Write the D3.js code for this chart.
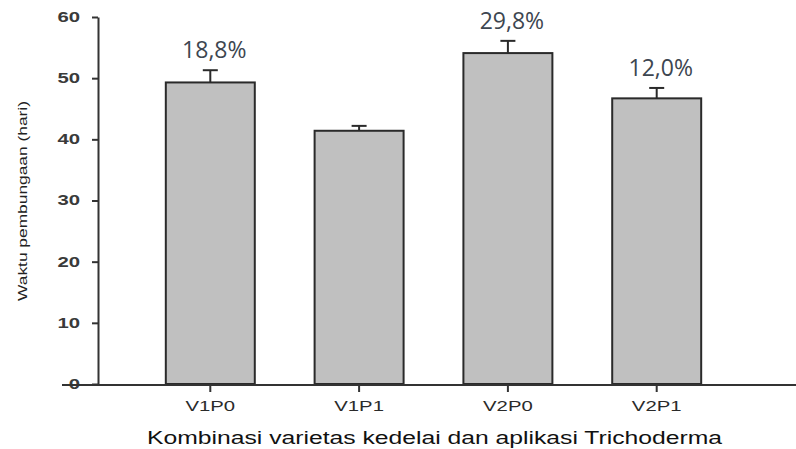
<!DOCTYPE html>
<html>
<head>
<meta charset="utf-8">
<script src="https://cdn.jsdelivr.net/npm/d3@7"></script>
<style>
  html, body { margin: 0; padding: 0; background: #fff; }
  svg { display: block; }
</style>
</head>
<body>
<svg id="chart" width="796" height="449"></svg>
<script>
// ---- data ----
const categories = ["V1P0", "V1P1", "V2P0", "V2P1"];
const means = [49.3, 41.4, 54.1, 46.7];
const errors = [2.0, 0.8, 2.0, 1.7];
const percentLabels = ["18,8%", "", "29,8%", "12,0%"];
const yTicks = [0, 10, 20, 30, 40, 50, 60];
const xTitle = "Kombinasi varietas kedelai dan aplikasi Trichoderma";
const yTitle = "Waktu pembungaan (hari)";

// ---- layout ----
const svg = d3.select("#chart");
const stretch = 1.45;

const x = d3.scaleBand()
  .domain(categories)
  .range([99, 768])
  .paddingInner(0.402)
  .paddingOuter(0.449);

const y = d3.scaleLinear().domain([0, 60]).range([384, 17]);

function stretchText(sel, k) {
  sel.each(function () {
    const w = this.getComputedTextLength();
    if (w > 0) {
      d3.select(this).attr("textLength", w * k).attr("lengthAdjust", "spacingAndGlyphs");
    }
  });
}

// bars
const data = categories.map((c, i) => ({ c, m: means[i], e: errors[i], lab: percentLabels[i] }));

svg.append("g").selectAll("rect").data(data).join("rect")
  .attr("x", d => x(d.c))
  .attr("y", d => y(d.m))
  .attr("width", x.bandwidth())
  .attr("height", d => y(0) - y(d.m))
  .attr("fill", "#c0c0c0")
  .attr("stroke", "#2a2a2a")
  .attr("stroke-width", 2);

// error bars
const eg = svg.append("g").attr("stroke", "#2a2a2a").attr("stroke-width", 2);
eg.selectAll("line.v").data(data).join("line").attr("class", "v")
  .attr("x1", d => x(d.c) + x.bandwidth() / 2)
  .attr("x2", d => x(d.c) + x.bandwidth() / 2)
  .attr("y1", d => y(d.m))
  .attr("y2", d => y(d.m + d.e));
eg.selectAll("line.cap").data(data).join("line").attr("class", "cap")
  .attr("x1", d => x(d.c) + x.bandwidth() / 2 - 7.5)
  .attr("x2", d => x(d.c) + x.bandwidth() / 2 + 7.5)
  .attr("y1", d => y(d.m + d.e))
  .attr("y2", d => y(d.m + d.e));

// y axis
const yAxis = svg.append("g")
  .attr("transform", "translate(98,0)")
  .call(d3.axisLeft(y).tickValues(yTicks).tickSize(6).tickSizeOuter(0).tickPadding(12));
yAxis.select(".domain").attr("stroke", "#333").attr("stroke-width", 2);
yAxis.selectAll(".tick line").attr("stroke", "#333").attr("stroke-width", 2);
yAxis.selectAll(".tick text")
  .attr("font-family", "Liberation Sans, Arial, sans-serif")
  .attr("font-size", 14)
  .attr("font-weight", "bold")
  .attr("fill", "#3a3a3a")
  .call(stretchText, stretch);

// x axis
const xAxis = svg.append("g")
  .attr("transform", "translate(0,385)")
  .call(d3.axisBottom(x).tickSize(7).tickSizeOuter(0).tickPadding(9));
xAxis.select(".domain").remove();
xAxis.append("line").attr("x1", 62).attr("x2", 796).attr("y1", 0).attr("y2", 0)
  .attr("stroke", "#333").attr("stroke-width", 2);
xAxis.selectAll(".tick line").attr("stroke", "#333").attr("stroke-width", 2);
xAxis.selectAll(".tick text")
  .attr("font-family", "Liberation Sans, Arial, sans-serif")
  .attr("font-size", 14)
  .attr("fill", "#2a2a2a")
  .call(stretchText, stretch);

// percent labels
svg.append("g").selectAll("text").data(data.filter(d => d.lab)).join("text")
  .attr("x", d => x(d.c) + x.bandwidth() / 2 + 4)
  .attr("y", d => y(d.m + d.e) - 12)
  .attr("text-anchor", "middle")
  .attr("font-family", "Open Sans, sans-serif")
  .attr("font-size", 23)
  .attr("fill", "#3d4650")
  .text(d => d.lab);

// x title
svg.append("text")
  .attr("x", 434.5)
  .attr("y", 444)
  .attr("text-anchor", "middle")
  .attr("font-family", "Liberation Sans, Arial, sans-serif")
  .attr("font-size", 17.5)
  .attr("fill", "#111")
  .attr("textLength", 575)
  .attr("lengthAdjust", "spacingAndGlyphs")
  .text(xTitle);

// y title
svg.append("text")
  .attr("transform", "translate(27,201) rotate(-90)")
  .attr("text-anchor", "middle")
  .attr("font-family", "Liberation Sans, Arial, sans-serif")
  .attr("font-size", 13)
  .attr("fill", "#222")
  .attr("textLength", 200)
  .attr("lengthAdjust", "spacingAndGlyphs")
  .text(yTitle);
</script>
</body>
</html>
